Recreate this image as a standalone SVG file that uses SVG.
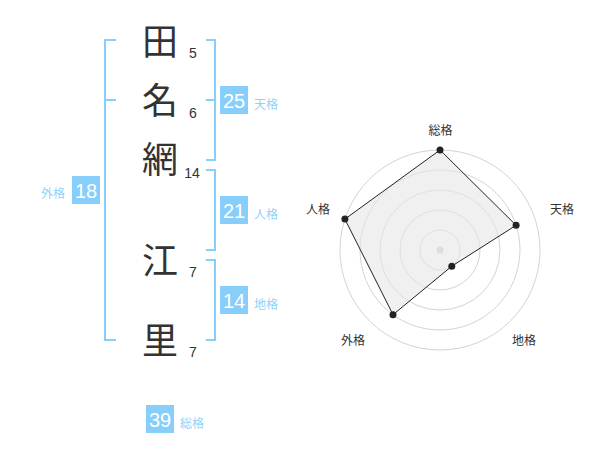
<svg xmlns="http://www.w3.org/2000/svg" width="600" height="470" viewBox="0 0 600 470">
<style>
.kanji{font-family:"Noto Sans CJK JP","Noto Sans CJK SC",sans-serif;font-size:36px;fill:#333;text-anchor:middle}
.stroke{font-family:"Liberation Sans",Arial,sans-serif;font-size:14px;fill:#333;text-anchor:middle}
.br{fill:none;stroke:#87CEFA;stroke-width:2}
.box{fill:#87CEFA}
.num{font-family:"Liberation Sans",Arial,sans-serif;font-size:20px;fill:#fff;text-anchor:middle}
.lbl{font-family:"Noto Sans CJK JP","Noto Sans CJK SC",sans-serif;font-size:12px;fill:#8fd2fa}
.ring{fill:none;stroke:#d4d4d4;stroke-width:1}
.rl{font-family:"Noto Sans CJK JP","Noto Sans CJK SC",sans-serif;font-size:12px;fill:#333;text-anchor:middle}
.pt{fill:#222}
</style>
<rect width="600" height="470" fill="#fff"/>
<g id="name">
<text class="kanji" x="160" y="54.5">田</text>
<text class="kanji" x="160" y="114">名</text>
<text class="kanji" x="160" y="173">網</text>
<text class="kanji" x="160" y="273.5">江</text>
<text class="kanji" x="160" y="354">里</text>
<text class="stroke" x="193" y="58">5</text>
<text class="stroke" x="193" y="118">6</text>
<text class="stroke" x="192" y="178">14</text>
<text class="stroke" x="193" y="277">7</text>
<text class="stroke" x="193" y="357">7</text>
</g>
<g id="connectors">
<path class="br" d="M116,40 H105 V340 H116 M105,100 H116"/>
<path class="br" d="M206,40 H215 V160 H206 M206,100 H215"/>
<path class="br" d="M206,170 H215 V250 H206"/>
<path class="br" d="M206,260 H215 V340 H206"/>
</g>
<g id="tenkaku">
<rect class="box" x="220" y="86" width="28" height="28"/>
<text class="num" x="234" y="107.5">25</text>
<text class="lbl" x="254" y="108.5">天格</text>
</g>
<g id="jinkaku">
<rect class="box" x="220" y="196" width="28" height="28"/>
<text class="num" x="234" y="217.5">21</text>
<text class="lbl" x="254" y="218.5">人格</text>
</g>
<g id="chikaku">
<rect class="box" x="220" y="286" width="28" height="28"/>
<text class="num" x="234" y="307.5">14</text>
<text class="lbl" x="254" y="308.5">地格</text>
</g>
<g id="gaikaku">
<rect class="box" x="72" y="176" width="28" height="28"/>
<text class="num" x="86" y="197.5">18</text>
<text class="lbl" x="41" y="198">外格</text>
</g>
<g id="soukaku">
<rect class="box" x="146" y="405" width="28" height="28"/>
<text class="num" x="160" y="426.5">39</text>
<text class="lbl" x="180" y="427.5">総格</text>
</g>
<g id="radar">
<circle class="ring" cx="440" cy="250" r="20"/>
<circle class="ring" cx="440" cy="250" r="40"/>
<circle class="ring" cx="440" cy="250" r="60"/>
<circle class="ring" cx="440" cy="250" r="80"/>
<circle class="ring" cx="440" cy="250" r="100"/>
<circle cx="440" cy="250" r="3.5" fill="#ccc"/>
<polygon points="440,150 516.1,225.3 451.8,266.2 393,314.7 344.9,219.1" fill="#e6e6e6" fill-opacity="0.6" stroke="#222" stroke-width="1"/>
<circle class="pt" cx="440" cy="150" r="3.5"/>
<circle class="pt" cx="516.1" cy="225.3" r="3.5"/>
<circle class="pt" cx="451.8" cy="266.2" r="3.5"/>
<circle class="pt" cx="393" cy="314.7" r="3.5"/>
<circle class="pt" cx="344.9" cy="219.1" r="3.5"/>
<text class="rl" x="440.5" y="134.5">総格</text>
<text class="rl" x="562" y="213.5">天格</text>
<text class="rl" x="524" y="345">地格</text>
<text class="rl" x="353" y="345">外格</text>
<text class="rl" x="318" y="213.5">人格</text>
</g>
</svg>
